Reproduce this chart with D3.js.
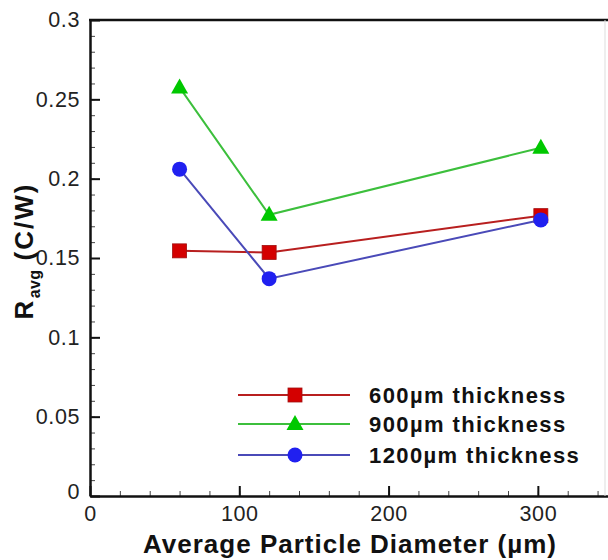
<!DOCTYPE html>
<html>
<head>
<meta charset="utf-8">
<script src="https://cdn.jsdelivr.net/npm/d3@7"></script>
<style>
  html, body { margin: 0; padding: 0; background: #fff; }
  svg { display: block; font-family: "Liberation Sans", Arial, sans-serif; }
</style>
</head>
<body>
<svg id="chart" width="608" height="560"></svg>
<script>
// Particle diameters (µm) and average thermal resistance per layer thickness
const diameters = [60, 120, 302];
const r600 = [0.1545, 0.1535, 0.1767];
const r900 = [0.2575, 0.1772, 0.2195];
const r1200 = [0.2060, 0.1370, 0.1740];
const seriesNames = ["600\u00b5m thickness", "900\u00b5m thickness", "1200\u00b5m thickness"];
const xMajorTicks = [0, 100, 200, 300];
const yMajorTicks = [0, 0.05, 0.1, 0.15, 0.2, 0.25, 0.3];

const series = [
  { name: seriesNames[0], values: r600, line: "#b81f1f", fill: "#d40000", shape: "square" },
  { name: seriesNames[1], values: r900, line: "#3cbf3c", fill: "#00c800", shape: "triangle" },
  { name: seriesNames[2], values: r1200, line: "#4a4ab8", fill: "#2020f0", shape: "circle" }
];

const svg = d3.select("#chart");
const plotLeft = 90, plotTop = 20, plotBottom = 496;
const x = d3.scaleLinear().domain([0, 350]).range([plotLeft, plotLeft + 522.5]);
const y = d3.scaleLinear().domain([0, 0.3]).range([plotBottom, plotTop]);

// Minor ticks
svg.append("g").attr("transform", `translate(0,${plotBottom})`)
  .call(d3.axisBottom(x).tickValues(d3.range(0, 351, 20)).tickSize(-5).tickFormat(""))
  .call(g => g.select(".domain").remove())
  .call(g => g.selectAll("line").attr("stroke", "#444").attr("stroke-width", 1));
svg.append("g").attr("transform", `translate(${plotLeft},0)`)
  .call(d3.axisLeft(y).tickValues(d3.range(0, 0.301, 0.01)).tickSize(-5).tickFormat(""))
  .call(g => g.select(".domain").remove())
  .call(g => g.selectAll("line").attr("stroke", "#444").attr("stroke-width", 1));

// Major axes
const xAxis = svg.append("g").attr("transform", `translate(0,${plotBottom})`)
  .call(d3.axisBottom(x).tickValues(xMajorTicks).tickSize(-10).tickPadding(10).tickSizeOuter(0).tickFormat(d3.format("d")));
const yAxis = svg.append("g").attr("transform", `translate(${plotLeft},0)`)
  .call(d3.axisLeft(y).tickValues(yMajorTicks).tickSize(-10).tickPadding(10).tickSizeOuter(0).tickFormat(d => d === 0 ? "0" : String(+d.toFixed(2))));
[xAxis, yAxis].forEach(g => {
  g.select(".domain").attr("stroke", "#111").attr("stroke-width", 2.5);
  g.selectAll(".tick line").attr("stroke", "#111").attr("stroke-width", 2);
  g.selectAll(".tick text").attr("font-size", 21.5).attr("letter-spacing", 0.6).attr("fill", "#222");
});
xAxis.selectAll(".tick text").attr("dy", "0.72em");
yAxis.selectAll(".tick text").filter(d => d === 0).attr("dy", "0.12em");

// Frame top and right
svg.append("line").attr("x1", plotLeft - 1).attr("x2", 608).attr("y1", plotTop).attr("y2", plotTop)
  .attr("stroke", "#111").attr("stroke-width", 2.5);
svg.append("line").attr("x1", 605).attr("x2", 605).attr("y1", plotTop).attr("y2", plotBottom)
  .attr("stroke", "#ddd").attr("stroke-width", 1);

// Markers
function marker(g, s, cx, cy) {
  if (s.shape === "square") {
    g.append("rect").attr("x", cx - 7).attr("y", cy - 7).attr("width", 14).attr("height", 14)
      .attr("fill", s.fill).attr("stroke", "#a01010").attr("stroke-width", 0.8);
  } else if (s.shape === "triangle") {
    g.append("path").attr("d", `M${cx},${cy - 9}L${cx + 8.5},${cy + 6}L${cx - 8.5},${cy + 6}Z`)
      .attr("fill", s.fill);
  } else {
    g.append("circle").attr("cx", cx).attr("cy", cy).attr("r", 7.5).attr("fill", s.fill);
  }
}

const line = d3.line().x(d => x(d[0])).y(d => y(d[1]));
series.forEach(s => {
  const pts = diameters.map((d, i) => [d, s.values[i]]);
  svg.append("path").attr("d", line(pts)).attr("fill", "none")
    .attr("stroke", s.line).attr("stroke-width", 2);
  const g = svg.append("g");
  pts.forEach(p => marker(g, s, x(p[0]), y(p[1])));
});

// Legend
const legendRows = [395, 424, 455];
series.forEach((s, i) => {
  const ly = legendRows[i];
  svg.append("line").attr("x1", 238).attr("x2", 350).attr("y1", ly).attr("y2", ly)
    .attr("stroke", s.line).attr("stroke-width", 2);
  marker(svg, s, 295, ly);
  svg.append("text").attr("x", 369).attr("y", ly).attr("dy", "0.36em")
    .attr("font-size", 22).attr("letter-spacing", 1.4).attr("font-weight", "bold").attr("fill", "#111")
    .text(s.name);
});

// Axis titles
svg.append("text").attr("x", 350).attr("y", 553).attr("text-anchor", "middle")
  .attr("font-size", 26).attr("letter-spacing", 1).attr("font-weight", "bold").attr("fill", "#111")
  .text("Average Particle Diameter (\u00b5m)");
const yt = svg.append("text").attr("transform", "translate(33,251) rotate(-90)")
  .attr("text-anchor", "middle").attr("font-size", 26).attr("letter-spacing", 2.5)
  .attr("font-weight", "bold").attr("fill", "#111");
yt.append("tspan").text("R");
yt.append("tspan").attr("font-size", 16).attr("letter-spacing", 0.3).attr("dy", 7).text("avg");
yt.append("tspan").attr("dy", -7).attr("letter-spacing", 2).text(" (C/W)");
</script>
</body>
</html>
